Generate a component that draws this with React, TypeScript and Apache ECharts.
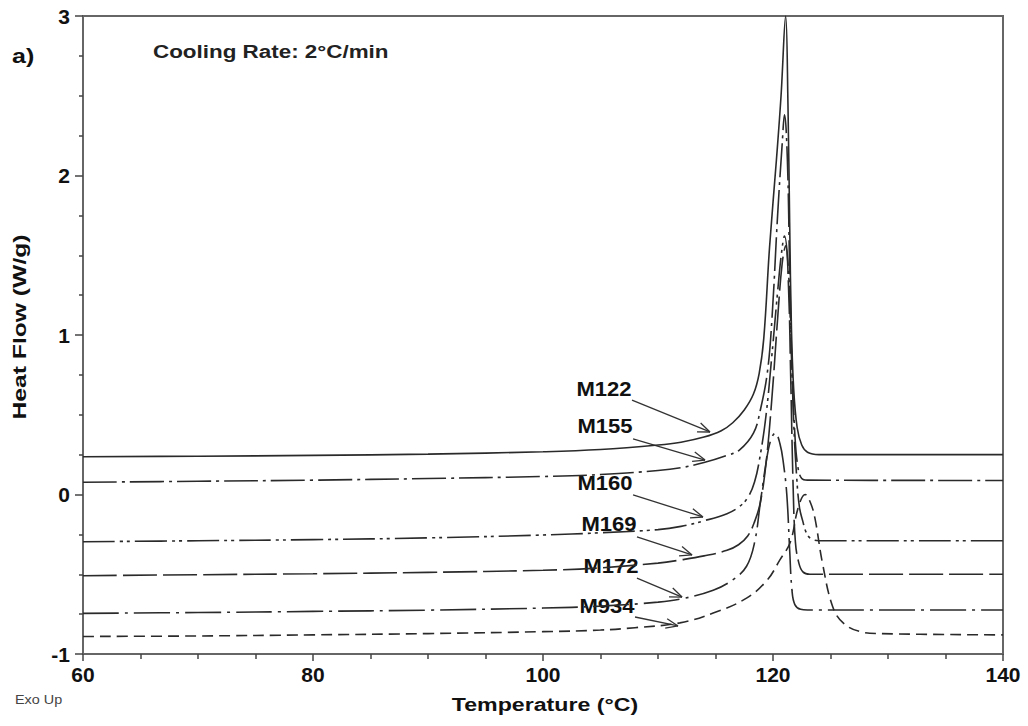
import React, { useEffect, useRef } from "react";
import * as echarts from "echarts";

// ---- data (temperature °C, heat flow W/g) ----
const seriesNames = ["M122", "M155", "M160", "M169", "M172", "M934"];

const m122: [number, number][] = [
  [60, 0.237], [70, 0.24], [80, 0.245], [90, 0.253], [100, 0.268], [105, 0.282],
  [110, 0.31], [112, 0.328], [114, 0.36], [115.5, 0.4], [116.5, 0.45], [117.5, 0.53],
  [118.3, 0.63], [118.8, 0.76], [119.2, 0.98], [119.7, 1.55], [120.3, 2.1], [120.7, 2.5],
  [121.1, 3.0], [121.3, 2.45], [121.45, 1.7], [121.6, 1.05], [121.8, 0.66], [122.1, 0.42],
  [122.5, 0.31], [123, 0.265], [124, 0.25], [140, 0.25],
];
const m155: [number, number][] = [
  [60, 0.077], [70, 0.083], [80, 0.09], [90, 0.1], [100, 0.113], [105, 0.125],
  [110, 0.15], [112, 0.168], [114, 0.2], [116, 0.245], [117.1, 0.28], [118.3, 0.385],
  [118.9, 0.53], [119.5, 0.76], [119.9, 1.09], [120.4, 1.75], [120.8, 2.2], [121.0, 2.38],
  [121.25, 2.1], [121.45, 1.4], [121.65, 0.8], [121.9, 0.38], [122.15, 0.18], [122.5, 0.1],
  [123, 0.09], [140, 0.088],
];
const m160: [number, number][] = [
  [60, -0.296], [70, -0.29], [80, -0.283], [90, -0.272], [100, -0.254], [105, -0.24],
  [110, -0.22], [112, -0.2], [114, -0.165], [116, -0.12], [117, -0.08], [117.8, -0.02],
  [118.4, 0.08], [118.9, 0.25], [119.4, 0.5], [119.9, 0.87], [120.4, 1.27], [120.75, 1.52],
  [121.0, 1.62], [121.3, 1.45], [121.55, 1.0], [121.8, 0.45], [122.05, 0.12], [122.3, -0.08],
  [122.6, -0.17], [122.9, -0.24], [123.3, -0.277], [124, -0.29], [140, -0.29],
];
const m169: [number, number][] = [
  [60, -0.509], [70, -0.503], [80, -0.497], [90, -0.488], [100, -0.475], [105, -0.46],
  [110, -0.43], [112, -0.41], [114, -0.385], [116, -0.35], [117, -0.315], [117.8, -0.26],
  [118.4, -0.17], [118.9, -0.05], [119.4, 0.2], [119.9, 0.6], [120.4, 1.1], [120.8, 1.45],
  [121.1, 1.56], [121.35, 1.3], [121.55, 0.7], [121.75, 0.05], [121.95, -0.3], [122.25, -0.43],
  [122.6, -0.485], [123.2, -0.5], [140, -0.5],
];
const m172: [number, number][] = [
  [60, -0.745], [70, -0.74], [80, -0.733], [90, -0.725], [100, -0.712], [105, -0.7],
  [110, -0.675], [112, -0.655], [114.8, -0.6], [116.5, -0.535], [117.7, -0.45], [118.4, -0.3],
  [118.9, -0.05], [119.4, 0.2], [119.8, 0.34], [120.2, 0.385], [120.6, 0.32], [120.9, 0.2],
  [121.2, 0.0], [121.45, -0.35], [121.65, -0.6], [121.9, -0.69], [122.4, -0.72], [123, -0.724],
  [140, -0.724],
];
const m934: [number, number][] = [
  [60, -0.89], [70, -0.887], [80, -0.88], [90, -0.872], [100, -0.86], [105, -0.85],
  [108, -0.835], [111.9, -0.805], [114.8, -0.743], [117.7, -0.65], [119.5, -0.536], [120.6, -0.41],
  [121.5, -0.3], [122.2, -0.08], [122.8, 0.0], [123.25, -0.05], [123.65, -0.15], [124.3, -0.43],
  [125.2, -0.705], [126.1, -0.805], [127.6, -0.86], [129.3, -0.872], [140, -0.88],
];
const seriesData = [m122, m155, m160, m169, m172, m934];

// label centre, arrow start and arrow tip (data coordinates)
const labelPos: [number, number][] = [
  [105.3, 0.661], [105.39, 0.429], [105.39, 0.072], [105.74, -0.185], [105.91, -0.448], [105.57, -0.699],
];
const arrowFrom: [number, number][] = [
  [107.74, 0.592], [107.83, 0.348], [107.83, -0.003], [108.17, -0.266], [108.17, -0.524], [108.0, -0.768],
];
const arrowTo: [number, number][] = [
  [114.52, 0.392], [114.09, 0.216], [113.91, -0.141], [112.96, -0.379], [112.09, -0.643], [111.74, -0.824],
];

const dashes: (string | number[])[] = [
  "solid", [34, 5, 3, 5], [32, 5, 3, 4, 3, 5], [34, 6], [36, 6, 3, 6], [11, 6],
];

const FONT = "Arial, 'Liberation Sans', Helvetica, sans-serif";

export default function App() {
  const ref = useRef<HTMLDivElement>(null);
  useEffect(() => {
    const chart = echarts.init(ref.current!, null, { renderer: "svg" });
    chart.setOption({
      animation: false,
      backgroundColor: "#ffffff",
      grid: { left: 83, right: 25, top: 16, bottom: 72, show: true, borderColor: "#666", borderWidth: 2 },
      xAxis: {
        type: "value",
        min: 60,
        max: 140,
        interval: 20,
        axisLine: { onZero: false, lineStyle: { color: "#666", width: 2 } },
        axisTick: { length: 7, lineStyle: { color: "#444", width: 1.5 } },
        minorTick: { show: true, splitNumber: 4, length: 5, lineStyle: { color: "#444", width: 1.5 } },
        splitLine: { show: false },
        axisLabel: { fontFamily: FONT, fontWeight: "bold", fontSize: 21, color: "#111", margin: 10 },
      },
      yAxis: {
        type: "value",
        min: -1,
        max: 3,
        interval: 1,
        axisLine: { show: true, onZero: false, lineStyle: { color: "#666", width: 2 } },
        axisTick: { show: true, length: 8, lineStyle: { color: "#444", width: 1.5 } },
        minorTick: { show: true, splitNumber: 4, length: 4, lineStyle: { color: "#444", width: 1.5 } },
        splitLine: { show: false },
        axisLabel: { fontFamily: FONT, fontWeight: "bold", fontSize: 21, color: "#111", margin: 13 },
      },
      series: seriesData.map((d, i) => ({
        name: seriesNames[i],
        type: "line",
        data: d,
        showSymbol: false,
        smooth: 0.4,
        lineStyle: { color: "#2a2a2a", width: 1.6, type: dashes[i] },
      })),
    });

    const px = (p: [number, number]) => chart.convertToPixel({ gridIndex: 0 }, p) as number[];
    const elements: any[] = [];
    seriesNames.forEach((name, i) => {
      const c = px(labelPos[i]);
      elements.push({
        type: "text",
        x: c[0],
        y: c[1],
        scaleX: 1.05,
        style: { text: name, fontFamily: FONT, fontWeight: "bold", fontSize: 21, fill: "#111", align: "center", verticalAlign: "middle" },
      });
      const a = px(arrowFrom[i]);
      const b = px(arrowTo[i]);
      elements.push({ type: "line", shape: { x1: a[0], y1: a[1], x2: b[0], y2: b[1] }, style: { stroke: "#333", lineWidth: 1.3 } });
      const ang = Math.atan2(a[1] - b[1], a[0] - b[0]);
      const L = 13;
      const spread = 0.38;
      [ang - spread, ang + spread].forEach((t) => {
        elements.push({
          type: "line",
          shape: { x1: b[0], y1: b[1], x2: b[0] + L * Math.cos(t), y2: b[1] + L * Math.sin(t) },
          style: { stroke: "#333", lineWidth: 1.3 },
        });
      });
    });
    elements.push(
      { type: "text", x: 153, y: 51, scaleX: 1.18, style: { text: "Cooling Rate: 2°C/min", fontFamily: FONT, fontWeight: "bold", fontSize: 19, fill: "#222", align: "left", verticalAlign: "middle" } },
      { type: "text", x: 12, y: 56, scaleX: 1.25, style: { text: "a)", fontFamily: FONT, fontWeight: "bold", fontSize: 20, fill: "#111", align: "left", verticalAlign: "middle" } },
      { type: "text", x: 15, y: 700, scaleX: 1.2, style: { text: "Exo Up", fontFamily: FONT, fontSize: 12, fill: "#444", align: "left", verticalAlign: "middle" } },
      { type: "text", x: 545, y: 704, scaleX: 1.22, style: { text: "Temperature (°C)", fontFamily: FONT, fontWeight: "bold", fontSize: 19, fill: "#111", align: "center", verticalAlign: "middle" } },
      { type: "text", x: 20, y: 327, rotation: Math.PI / 2, scaleX: 1.3, style: { text: "Heat Flow (W/g)", fontFamily: FONT, fontWeight: "bold", fontSize: 19, fill: "#111", align: "center", verticalAlign: "middle" } },
    );
    chart.setOption({ graphic: { elements } });
    return () => chart.dispose();
  }, []);
  return <div ref={ref} style={{ position: "fixed", left: 0, top: 0, width: 1028, height: 726, background: "#fff" }} />;
}
